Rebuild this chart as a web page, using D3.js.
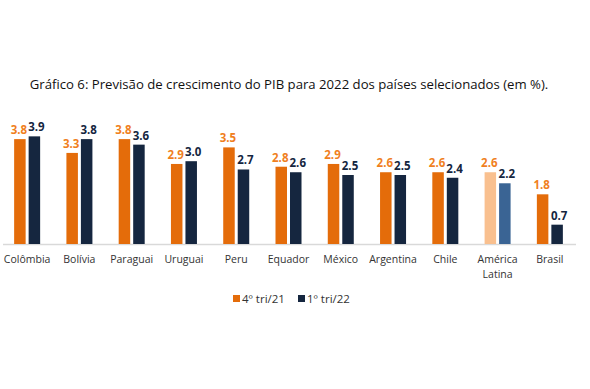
<!DOCTYPE html>
<meta charset="utf-8">
<style>
body { margin: 0; background: #fff; }
text { font-family: "Open Sans", "Noto Sans", sans-serif; }
.cat { font-size: 10.5px; fill: #333; }
.val { font-size: 11.5px; font-weight: bold; }
.title { fill: #111; }
.legend { font-size: 11.5px; fill: #333; }
</style>
<body>
<script src="https://d3js.org/d3.v7.min.js"></script>
<script>

// data
var countries = ["Colômbia", "Bolívia", "Paraguai", "Uruguai", "Peru", "Equador",
                 "México", "Argentina", "Chile", "América Latina", "Brasil"];
var tri4_21 = [3.8, 3.3, 3.8, 2.9, 3.5, 2.8, 2.9, 2.6, 2.6, 2.6, 1.8];
var tri1_22 = [3.9, 3.8, 3.6, 3.0, 2.7, 2.6, 2.5, 2.5, 2.4, 2.2, 0.7];
var seriesNames = ["4º tri/21", "1º tri/22"];

var width = 590, height = 389;
var baseY = 244;

var svg = d3.select("body").append("svg")
    .attr("width", width)
    .attr("height", height);

// scales
var x = d3.scaleBand().domain(countries).range([1, 576]);
var y = d3.scaleLinear().domain([0, 4]).range([baseY, baseY - 110.4]);

var barW = 11.5, gap = 3;
var groupW = barW * 2 + gap;

var barColors = ["#E46C0A", "#15263F"];
var latColors = ["#F9C08F", "#3A6494"];
var labelColors = ["#F07F1E", "#15263F"];

// title - fit font size to the width it has in the original
var title = svg.append("text")
    .attr("class", "title")
    .attr("x", 289)
    .attr("y", 89)
    .attr("text-anchor", "middle")
    .style("font-size", "14px")
    .text("Gráfico 6: Previsão de crescimento do PIB para 2022 dos países selecionados (em %).");
var tw = title.node().getComputedTextLength();
title.style("font-size", (14 * 519 / tw) + "px");

// baseline
svg.append("line")
    .attr("x1", 3).attr("x2", 576)
    .attr("y1", baseY + 0.5).attr("y2", baseY + 0.5)
    .attr("stroke", "#d9d9d9")
    .attr("stroke-width", 1.5);

[tri4_21, tri1_22].forEach(function(vals, s) {
    var g = svg.append("g");
    var rows = countries.map(function(c, i) { return {c: c, v: vals[i]}; });

    g.selectAll("rect")
        .data(rows)
        .enter().append("rect")
        .attr("x", function(d) { return x(d.c) + (x.bandwidth() - groupW) / 2 + s * (barW + gap); })
        .attr("y", function(d) { return y(d.v); })
        .attr("width", barW)
        .attr("height", function(d) { return baseY - y(d.v); })
        .attr("fill", function(d) { return d.c === "América Latina" ? latColors[s] : barColors[s]; });

    g.selectAll("text")
        .data(rows)
        .enter().append("text")
        .attr("class", "val")
        .attr("x", function(d) { return x(d.c) + (x.bandwidth() - groupW) / 2 + s * (barW + gap) + barW / 2 + (s ? 2 : -1); })
        .attr("y", function(d) { return y(d.v) - 5; })
        .attr("text-anchor", "middle")
        .attr("fill", labelColors[s])
        .text(function(d) { return d.v.toFixed(1); });
});

// category labels (multi-word names wrap onto two lines)
var catG = svg.append("g");
countries.forEach(function(d) {
    d.split(" ").forEach(function(p, i) {
        catG.append("text")
            .attr("class", "cat")
            .attr("x", x(d) + x.bandwidth() / 2)
            .attr("y", 263 + i * 14.5)
            .attr("text-anchor", "middle")
            .text(p);
    });
});

// legend
var leg = svg.append("g");
var legX = [233, 298];
seriesNames.forEach(function(n, i) {
    leg.append("rect")
        .attr("x", legX[i]).attr("y", 295)
        .attr("width", 7).attr("height", 7)
        .attr("fill", barColors[i]);
    leg.append("text")
        .attr("class", "legend")
        .attr("x", legX[i] + 9)
        .attr("y", 303)
        .text(n);
});

</script>
</body>
